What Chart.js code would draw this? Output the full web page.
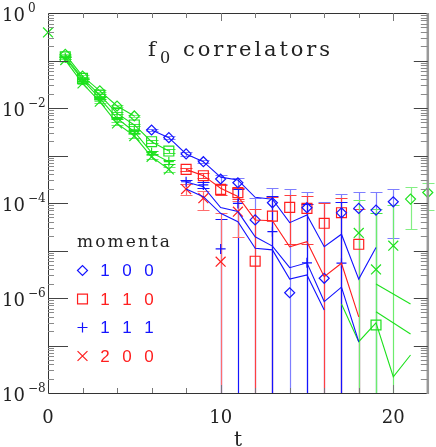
<!DOCTYPE html>
<html>
<head>
<meta charset="utf-8">
<script src="https://cdn.jsdelivr.net/npm/chart.js@4/dist/chart.umd.min.js"></script>
<style>
  html, body { margin: 0; padding: 0; background: #fff; }
  #wrap { width: 436px; height: 447px; }
</style>
</head>
<body>
<div id="wrap"><canvas id="corrChart"></canvas></div>
<script>
// time slices
var tValues = [0, 1, 2, 3, 4, 5, 6, 7, 8, 9, 10, 11, 12, 13, 14, 15, 16, 17, 18, 19, 20, 21, 22];

// correlator values per momentum (null = not shown)
var corr100 = [null, 1.35e-1, 4.7e-2, 2.3e-2, 1.1e-2, 6.8e-3, 3.44e-3, 2.37e-3, 1.08e-3, 7.4e-4, 3.2e-4, 2.67e-4,
  4.4e-5, 1.01e-4, 1.29e-6, 7.96e-5, 2.6e-6, 6.2e-5, 7.7e-5, 7.1e-5, 1.06e-4, 1.21e-4, 1.66e-4];
var err100 = [0, 4e-3, 1.5e-3, 8e-4, 4e-4, 3e-4, 2e-4, 1.5e-4, 8e-5, 6e-5, 7e-5, 6.4e-5,
  8.1e-5, 1.05e-4, 1.93e-4, 9.3e-5, 1.0e-4, 9.3e-5, 9.6e-5, 9.7e-5, 8.8e-5, 9.3e-5, 9.4e-5];

var corr110 = [null, 1.2e-1, 4.2e-2, 1.88e-2, 7.7e-3, 4.4e-3, 1.95e-3, 1.24e-3, 5.1e-4, 3.76e-4, 1.94e-4, 1.65e-4,
  5.96e-6, 5.3e-5, 8.1e-5, 7.7e-5, 3.74e-5, 6.25e-5, 1.35e-5, 2.7e-7, null, null, null];
var err110 = [0, 4e-3, 1.5e-3, 8e-4, 4e-4, 2.5e-4, 1.5e-4, 1.2e-4, 4.5e-5, 4.5e-5, 4.5e-5, 4.5e-5,
  6.8e-5, 8e-5, 6.7e-5, 6.3e-5, 6.4e-5, 6.7e-5, 6.1e-5, 6e-5, 0, 0, 0];

var corr111 = [null, 1.13e-1, 3.9e-2, 1.6e-2, 6.07e-3, 3.17e-3, 1.15e-3, 7.4e-4, 2.8e-4, 2.4e-4, 1.08e-5, 9.8e-5,
  null, 2.49e-5, null, 5.5e-6, null, 5.4e-6, null, null, null, null, null];
var err111 = [0, 4e-3, 1.5e-3, 7e-4, 3e-4, 2e-4, 1e-4, 7e-5, 3e-5, 3.5e-5, 3.5e-5, 1.0e-4,
  0, 1.13e-4, 0, 9e-5, 0, 1.0e-4, 0, 0, 0, 0, 0];

var corr200 = [3.9e-1, 1.02e-1, 3.3e-2, 1.36e-2, 4.75e-3, 2.57e-3, 9.4e-4, 5.1e-4, 1.97e-4, 1.26e-4, 5.8e-6, 6.56e-5,
  null, null, null, null, null, null, 2.34e-5, 4.0e-6, 1.26e-5, null, null];
var err200 = [0, 4e-3, 1.5e-3, 6e-4, 3e-4, 2e-4, 1e-4, 6e-5, 5e-5, 5.5e-5, 5.5e-5, 4.6e-5,
  0, 0, 0, 0, 0, 0, 9e-5, 7e-5, 8e-5, 0, 0];

// connecting curves
var line100 = [null, 1.35e-1, 4.7e-2, 2.3e-2, 1.1e-2, 6.8e-3, 3.44e-3, 2.37e-3, 1.08e-3, 7.4e-4, 3.5e-4, 3.05e-4,
  1.32e-4, 1.2e-4, 3.85e-5, 5.6e-5, 1.2e-5, 2.2e-5, 2.5e-6, 1.16e-5, null, null, null];
var line110 = [null, 1.2e-1, 4.2e-2, 1.88e-2, 7.7e-3, 4.4e-3, 1.95e-3, 1.24e-3, 5.1e-4, 3.76e-4, 2.04e-4, 1.37e-4,
  4.4e-5, 4.24e-5, 1.2e-5, 1.53e-5, 2.8e-6, 5.4e-6, 4.0e-7, null, null, null, null];
var line111 = [null, 1.13e-1, 3.9e-2, 1.6e-2, 6.07e-3, 3.17e-3, 1.15e-3, 7.4e-4, 2.77e-4, 2.2e-4, 8.0e-5, 6.6e-5,
  1.95e-5, 1.24e-5, 4.35e-6, 5.5e-6, 8.4e-7, 1.69e-6, 1.2e-7, null, null, null, null];
var line200 = [null, 1.02e-1, 3.3e-2, 1.36e-2, 4.75e-3, 2.57e-3, 9.4e-4, 5.1e-4, 1.97e-4, 1.36e-4, 6.07e-5, 4.04e-5,
  1.11e-5, 1.03e-5, 2.5e-6, 3.05e-6, 5.6e-7, 7.5e-7, 1.2e-7, 3.0e-7, 2.2e-8, 6.3e-8, null];
var lineExtraA = [null, null, null, null, null, null, null, null, null, null, null, null,
  null, null, null, null, null, null, null, 1.97e-6, null, 7.5e-7, null];
var lineExtraB = [null, null, null, null, null, null, null, null, null, null, null, null,
  null, null, null, null, null, null, null, 5.15e-7, null, 1.75e-7, null];

var momentaLabels = ['1 0 0', '1 1 0', '1 1 1', '2 0 0'];
var xTickLabels = [0, 10, 20];
var yTickExponents = [0, -2, -4, -6, -8];

var BLUE = [20, 20, 255], RED = [255, 30, 30], GREEN = [30, 225, 30];
var SERIF = '"DejaVu Serif", serif';
var SANS = '"Liberation Sans", Arial, sans-serif';
var yMin = 1e-8, yMax = 1;

function rgba(c, a) { return 'rgba(' + c[0] + ',' + c[1] + ',' + c[2] + ',' + a + ')'; }
// opaque tint towards white, so overlapping error bars do not darken
function tint(c, k) {
  return 'rgb(' + [0, 1, 2].map(function (i) { return Math.round(c[i] + (255 - c[i]) * k); }).join(',') + ')';
}

var series = [
  { values: corr100, errors: err100, line: line100, style: 'rectRot', radius: 5, main: BLUE, barTint: 0.45,
    isGreen: function (t) { return t <= 5 || t >= 21; } },
  { values: corr110, errors: err110, line: line110, style: 'rect', radius: 7, main: RED, barTint: 0.15,
    isGreen: function (t) { return t <= 7 || t >= 19; } },
  { values: corr111, errors: err111, line: line111, style: 'cross', radius: 5, main: BLUE, barTint: 0,
    isGreen: function (t) { return t <= 7; } },
  { values: corr200, errors: err200, line: line200, style: 'crossRot', radius: 7, main: RED, barTint: 0.35,
    isGreen: function (t) { return t <= 7 || t >= 17; } }
];
// the lower curve of 2 0 0 is drawn blue in the middle range
series[3].lineColor = BLUE;

function colorAt(s, t) { return s.isGreen(t) ? GREEN : s.main; }

function points(vals) {
  return vals.map(function (v, i) { return { x: tValues[i], y: v }; });
}

var datasets = [];
series.forEach(function (s) {
  datasets.push({
    type: 'line',
    data: points(s.line),
    showLine: true,
    pointRadius: 0,
    borderWidth: 1.1,
    spanGaps: false,
    borderColor: rgba(s.main, 1),
    segment: {
      borderColor: function (ctx) {
        var t0 = tValues[ctx.p0DataIndex], t1 = tValues[ctx.p1DataIndex];
        if (s.isGreen(t0) !== s.isGreen(t1)) return 'rgba(0,0,0,0)';
        return s.isGreen(t0) ? rgba(GREEN, 1) : rgba(s.lineColor || s.main, 1);
      }
    }
  });
});
[lineExtraA, lineExtraB].forEach(function (arr) {
  datasets.push({
    type: 'line', data: points(arr), pointRadius: 0, borderWidth: 1.1,
    spanGaps: true, borderColor: rgba(GREEN, 1)
  });
});
series.forEach(function (s) {
  datasets.push({
    type: 'line',
    data: points(s.values),
    showLine: false,
    clip: false,
    pointStyle: s.style,
    pointRadius: s.radius,
    pointBorderWidth: 1.2,
    pointBackgroundColor: 'rgba(0,0,0,0)',
    pointBorderColor: function (ctx) { return rgba(colorAt(s, tValues[ctx.dataIndex]), 1); }
  });
});

function drawSpread(ctx, text, x, y, width) {
  var chars = text.split('');
  var sum = 0;
  chars.forEach(function (c) { sum += ctx.measureText(c).width; });
  var gap = chars.length > 1 ? (width - sum) / (chars.length - 1) : 0;
  ctx.textAlign = 'left';
  chars.forEach(function (c) {
    ctx.fillText(c, x, y);
    x += ctx.measureText(c).width + gap;
  });
}

function drawMarker(ctx, style, x, y, r) {
  ctx.beginPath();
  if (style === 'rectRot') {
    ctx.moveTo(x - r, y); ctx.lineTo(x, y - r); ctx.lineTo(x + r, y); ctx.lineTo(x, y + r); ctx.closePath();
  } else if (style === 'rect') {
    var h = r * Math.SQRT1_2;
    ctx.rect(x - h, y - h, 2 * h, 2 * h);
  } else if (style === 'cross') {
    ctx.moveTo(x - r, y); ctx.lineTo(x + r, y); ctx.moveTo(x, y - r); ctx.lineTo(x, y + r);
  } else {
    var d = r * Math.SQRT1_2;
    ctx.moveTo(x - d, y - d); ctx.lineTo(x + d, y + d); ctx.moveTo(x + d, y - d); ctx.lineTo(x - d, y + d);
  }
  ctx.stroke();
}

var decor = {
  id: 'decor',
  beforeDatasetsDraw: function (chart) {
    var ctx = chart.ctx, a = chart.chartArea, xs = chart.scales.x, ys = chart.scales.y;
    ctx.save();
    ctx.beginPath();
    ctx.rect(0, a.top, chart.width, a.bottom - a.top);
    ctx.clip();
    ctx.lineWidth = 1.2;
    series.forEach(function (s) {
      s.values.forEach(function (v, i) {
        var e = s.errors[i];
        if (v == null || !e) return;
        var t = tValues[i];
        var x = Math.round(xs.getPixelForValue(t)) + 0.5;
        var top = Math.round(ys.getPixelForValue(v + e)) + 0.5;
        var lo = v - e;
        var bot = lo > yMin ? Math.round(ys.getPixelForValue(lo)) + 0.5 : a.bottom;
        ctx.strokeStyle = tint(colorAt(s, t), s.barTint);
        ctx.beginPath();
        ctx.moveTo(x, top); ctx.lineTo(x, bot);
        ctx.moveTo(x - 6, top); ctx.lineTo(x + 6, top);
        if (lo > yMin) { ctx.moveTo(x - 6, bot); ctx.lineTo(x + 6, bot); }
        ctx.stroke();
      });
    });
    ctx.restore();
  },
  afterDraw: function (chart) {
    var ctx = chart.ctx, a = chart.chartArea, xs = chart.scales.x, ys = chart.scales.y;
    ctx.save();

    // frame
    ctx.lineWidth = 1;
    ctx.strokeStyle = '#333';
    ctx.beginPath();
    ctx.moveTo(a.right, a.top + 0.5); ctx.lineTo(a.left + 0.5, a.top + 0.5);
    ctx.lineTo(a.left + 0.5, a.bottom + 0.5); ctx.lineTo(a.right, a.bottom + 0.5);
    ctx.stroke();
    ctx.strokeStyle = '#999';
    ctx.lineWidth = 2.5;
    ctx.beginPath();
    ctx.moveTo(a.right, a.top); ctx.lineTo(a.right, a.bottom + 1);
    ctx.stroke();

    // y ticks (log)
    ctx.lineWidth = 1;
    for (var p = -8; p <= 0; p++) {
      for (var m = 1; m <= 9; m++) {
        var v = m * Math.pow(10, p);
        if (v > yMax * 1.0001) break;
        var y = Math.round(ys.getPixelForValue(v)) + 0.5;
        var major = m === 1;
        if (major && (p === 0 || p === -8)) continue;
        ctx.strokeStyle = major ? '#444' : '#8a8a8a';
        ctx.beginPath();
        ctx.moveTo(a.left, y); ctx.lineTo(a.left + (major ? 20 : 6), y);
        ctx.moveTo(a.right, y); ctx.lineTo(a.right - (major ? 14 : 7), y);
        ctx.stroke();
      }
    }
    // x ticks
    for (var t = 2; t < 22; t += 2) {
      var x = Math.round(xs.getPixelForValue(t)) + 0.5;
      var len = t % 10 === 0 ? 8 : 5;
      ctx.strokeStyle = '#777';
      ctx.beginPath();
      ctx.moveTo(x, a.top); ctx.lineTo(x, a.top + len);
      ctx.moveTo(x, a.bottom); ctx.lineTo(x, a.bottom - len);
      ctx.stroke();
    }

    // tick labels
    ctx.fillStyle = '#222';
    ctx.textBaseline = 'alphabetic';
    yTickExponents.forEach(function (ex) {
      var y = ys.getPixelForValue(Math.pow(10, ex));
      ctx.font = '18px ' + SERIF;
      ctx.textAlign = 'right';
      ctx.fillText('10', 25, y + 7.5);
      ctx.font = '12px ' + SERIF;
      ctx.textAlign = 'left';
      ctx.fillText(ex < 0 ? '\u2212' + (-ex) : String(ex), 28, y - 1.5);
    });
    ctx.font = '18px ' + SERIF;
    ctx.textAlign = 'center';
    xTickLabels.forEach(function (v) {
      ctx.fillText(String(v), xs.getPixelForValue(v), 423);
    });
    ctx.font = '20px ' + SERIF;
    ctx.fillText('t', (a.left + a.right) / 2, 446);

    // title
    ctx.font = '21px ' + SERIF;
    ctx.textAlign = 'left';
    ctx.fillText('f', 148, 56);
    ctx.font = '16px ' + SERIF;
    ctx.fillText('0', 160, 63);
    ctx.font = '21px ' + SERIF;
    drawSpread(ctx, 'correlators', 183, 56, 147);

    // legend
    ctx.font = '17px ' + SERIF;
    drawSpread(ctx, 'momenta', 77, 247, 93);
    var rowY = [270, 298.5, 327, 355.5];
    series.forEach(function (s, i) {
      var c = rgba(s.main, 1);
      ctx.strokeStyle = c;
      ctx.lineWidth = 1.2;
      drawMarker(ctx, s.style, 82.5, rowY[i] + 0.5, s.radius);
      ctx.fillStyle = c;
      ctx.font = '17px ' + SANS;
      ctx.textAlign = 'center';
      momentaLabels[i].split(' ').forEach(function (d, k) {
        ctx.fillText(d, 105 + k * 22, rowY[i] + 6);
      });
    });
    ctx.restore();
  }
};

var chart = new Chart(document.getElementById('corrChart').getContext('2d'), {
  type: 'line',
  data: { datasets: datasets },
  options: {
    responsive: true,
    maintainAspectRatio: false,
    animation: false,
    layout: { padding: { left: 48, right: 5, top: 13, bottom: 54 } },
    plugins: { legend: { display: false }, tooltip: { enabled: false } },
    scales: {
      x: { type: 'linear', min: 0, max: 22, display: false },
      y: { type: 'logarithmic', min: yMin, max: yMax, display: false }
    }
  },
  plugins: [decor]
});
</script>
</body>
</html>
